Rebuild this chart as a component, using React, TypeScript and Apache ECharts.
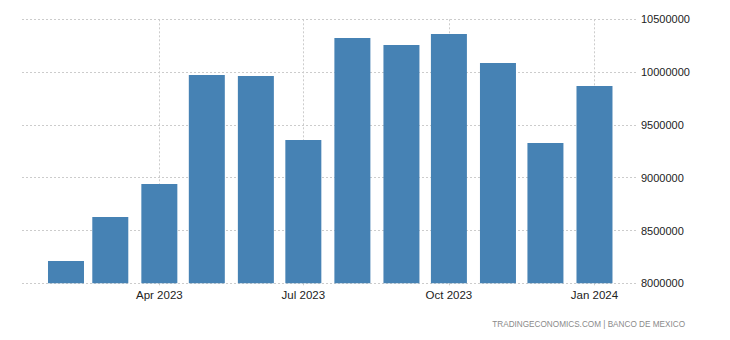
import React, { useEffect, useRef } from "react";
import * as echarts from "echarts";

const months = [
  "2023-02", "2023-03", "2023-04", "2023-05", "2023-06", "2023-07",
  "2023-08", "2023-09", "2023-10", "2023-11", "2023-12", "2024-01",
];
const values = [
  8211000, 8628000, 8940000, 9972000, 9962000, 9357000,
  10323000, 10256000, 10361000, 10086000, 9329000, 9868000,
];
const tickMonths = ["2023-04", "2023-07", "2023-10", "2024-01"];
const tickLabels = ["Apr 2023", "Jul 2023", "Oct 2023", "Jan 2024"];
const yMin = 8000000;
const yMax = 10500000;
const yStep = 500000;
const sourceText = "TRADINGECONOMICS.COM | BANCO DE MEXICO";

const DAY = 86400000;
const toMs = (s: string) => {
  const [y, m] = s.split("-").map(Number);
  return Date.UTC(y, m - 1, 1);
};

export default function App() {
  const ref = useRef<HTMLDivElement>(null);
  useEffect(() => {
    document.body.style.margin = "0";
    if (!ref.current) return;
    const chart = echarts.init(ref.current, null, { renderer: "svg" });
    const tickMs = tickMonths.map(toMs);
    const font = "'Liberation Sans', Arial, sans-serif";
    chart.setOption({
      animation: false,
      grid: { left: 22, right: 92, top: 19.3, bottom: 56.7, containLabel: false },
      xAxis: {
        type: "value",
        min: toMs(months[0]) - 27.8 * DAY,
        max: toMs(months[months.length - 1]) + 27.5 * DAY,
        axisLine: { show: false },
        axisTick: {
          show: true,
          customValues: tickMs,
          length: 4,
          lineStyle: { color: "#cccccc", type: [2, 2] },
        },
        splitLine: {
          show: true,
          lineStyle: { color: "#cccccc", type: [2, 2], width: 1 },
        },
        axisLabel: {
          customValues: tickMs,
          formatter: (v: number) => {
            const i = tickMs.indexOf(v);
            return i >= 0 ? tickLabels[i] : "";
          },
          color: "#222",
          fontSize: 11.5,
          fontFamily: font,
          margin: 6,
        },
      },
      yAxis: {
        type: "value",
        position: "right",
        min: yMin,
        max: yMax,
        interval: yStep,
        axisLine: { show: false },
        axisTick: { show: false },
        splitLine: {
          show: true,
          lineStyle: { color: "#cccccc", type: [2, 2], width: 1 },
        },
        axisLabel: {
          formatter: (v: number) => String(v),
          color: "#222",
          fontSize: 11,
          fontFamily: font,
          margin: 3,
        },
      },
      series: [
        {
          type: "bar",
          barWidth: 36,
          itemStyle: { color: "#4682b4" },
          data: months.map((m, i) => [toMs(m), values[i]]),
        },
      ],
      graphic: [
        {
          type: "text",
          right: 45,
          top: 320.5,
          style: {
            text: sourceText,
            fill: "#8a8a8a",
            fontSize: 8.2,
            fontFamily: font,
          },
        },
      ],
    });
    return () => chart.dispose();
  }, []);
  return <div ref={ref} style={{ width: 730, height: 340 }} />;
}
